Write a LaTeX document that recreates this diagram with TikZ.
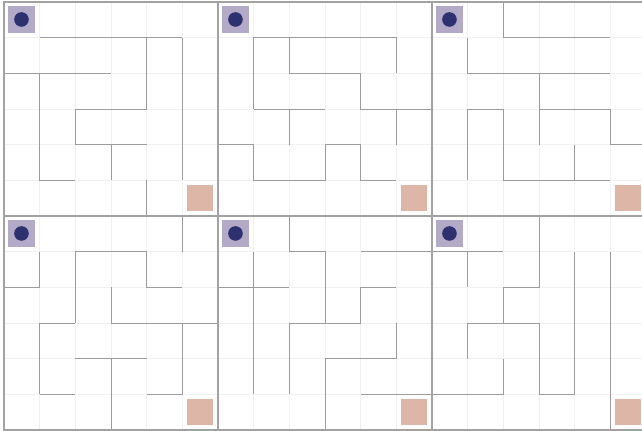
\documentclass[tikz,border=0pt]{standalone}
\usepackage{tikz}
\usetikzlibrary{positioning}

\definecolor{gridfaint}{HTML}{F1F1F3}
\definecolor{wallgray}{HTML}{9C9C9C}
\definecolor{edgegray}{HTML}{A2A2A2}
\definecolor{startfill}{HTML}{B2AAC6}
\definecolor{tokenblue}{HTML}{2E3170}
\definecolor{goalfill}{HTML}{DDB6A8}

\tikzset{
  wall/.style={wallgray,line width=0.75pt},
  mazeedge/.style={edgegray,line width=1.5pt},
  faintgrid/.style={gridfaint,line width=0.7pt},
  startbox/.style={fill=startfill,draw=none,minimum size=0.75cm,inner sep=0pt},
  goalbox/.style={fill=goalfill,draw=none,minimum size=0.74cm,inner sep=0pt},
  token/.style={circle,fill=tokenblue,draw=none,minimum size=0.41cm,inner sep=0pt}
}

\begin{document}
\begin{tikzpicture}[yscale=-1]
  \clip (-0.112,-0.056) rectangle (17.888,12.028);
  \foreach \i/\dx/\dy/\walls in {
      1/0/0/{(1,1)--(5,1) (4,1)--(4,3) (5,1)--(5,5) (0,2)--(3,2) (1,2)--(1,5)--(2,5)
             (2,3)--(4,3) (2,3)--(2,4)--(4,4) (3,4)--(3,5) (4,5)--(4,6)},
      2/6/0/{(1,3)--(1,1)--(5,1)--(5,2) (2,1)--(2,2)--(4,2)--(4,3)--(6,3) (1,3)--(3,3)
             (2,3)--(2,4) (5,3)--(5,4) (0,4)--(1,4)--(1,5)--(3,5)--(3,4)--(4,4)--(4,5)--(5,5)},
      3/12/0/{(2,0)--(2,1)--(5,1) (1,1)--(1,2)--(5,2) (3,2)--(3,4) (3,3)--(5,3)--(5,4)--(6,4)
             (1,5)--(1,3)--(2,3) (2,3)--(2,5)--(5,5) (4,4)--(4,5)},
      4/0/6/{(5,0)--(5,1) (1,1)--(1,2)--(0,2) (2,3)--(2,1)--(4,1)--(4,2)--(5,2) (1,5)--(1,3)--(2,3)
             (3,2)--(3,3)--(6,3) (1,5)--(2,5) (2,4)--(4,4) (3,4)--(3,6) (5,3)--(5,5)--(4,5)},
      5/6/6/{(2,0)--(2,1)--(3,1)--(3,3) (4,1)--(6,1) (1,1)--(1,5) (0,2)--(2,2) (5,2)--(4,2)--(4,3)
             (2,3)--(4,3) (2,3)--(2,5) (5,3)--(5,4)--(3,4)--(3,6) (4,5)--(6,5)},
      6/12/6/{(3,0)--(3,2)--(2,2)--(2,3) (0,1)--(2,1) (1,1)--(1,2) (1,4)--(1,3)--(3,3)--(3,5)--(4,5)--(4,1)
             (5,1)--(5,6) (2,4)--(2,5)--(0,5)}}{
    \begin{scope}[shift={(\dx,\dy)}]
      \draw[faintgrid] (0,0) grid (6,6);
      \draw[wall] \walls;
      \draw[mazeedge] (0,0) rectangle (6,6);
      \node[startbox] (start\i) at (0.49,0.49) {};
      \node[token] (token\i) at (start\i) {};
      \node[goalbox] (goal\i) at (5.49,5.49) {};
    \end{scope}
  }
\end{tikzpicture}
\end{document}
